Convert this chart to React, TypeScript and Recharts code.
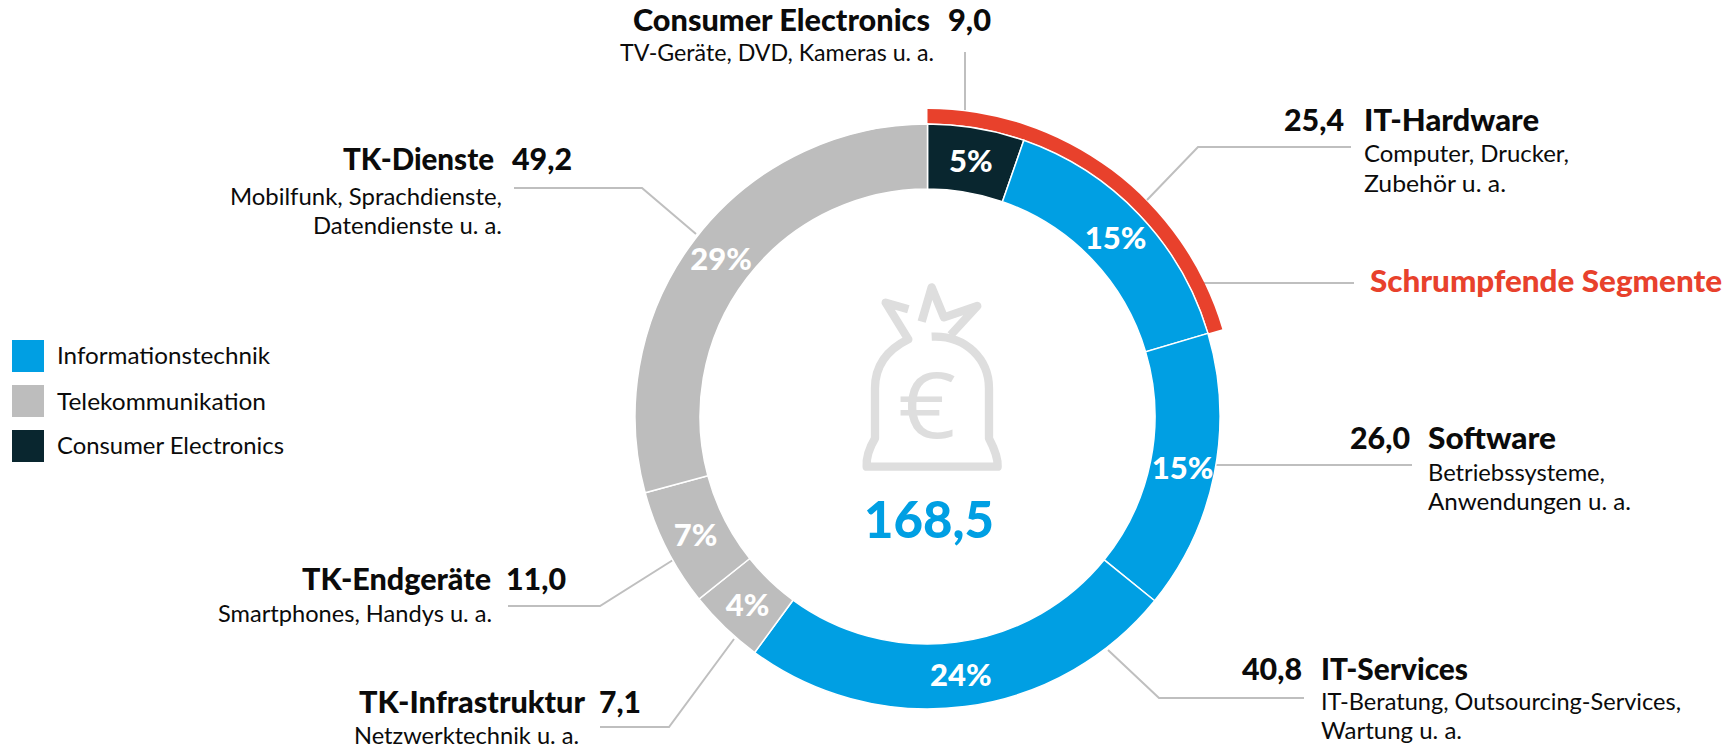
import { PieChart, Pie, Cell } from "recharts";

const WIDTH = 1733;
const HEIGHT = 749;
const FONT = "Lato, 'Open Sans', sans-serif";
const INK = "#0b0b0b";
const BLUE = "#009fe3";
const GRAY = "#bdbdbd";
const DARK = "#09262f";
const RED = "#e8412c";
const LINE = "#bfbfbf";
const CX = 927.5;
const CY = 416.5;

// Umsatz in Mrd. Euro, im Uhrzeigersinn ab 12 Uhr
const segments = ["Consumer Electronics", "IT-Hardware", "Software", "IT-Services", "TK-Infrastruktur", "TK-Endgeräte", "TK-Dienste"];
const revenue = [9.0, 25.4, 26.0, 40.8, 7.1, 11.0, 49.2];
const segmentColors = [DARK, BLUE, BLUE, BLUE, GRAY, GRAY, GRAY];
const shrinking = [34.4, 134.1];
const total = "168,5";

const legendNames = ["Informationstechnik", "Telekommunikation", "Consumer Electronics"];
const legendColors = [BLUE, GRAY, DARK];
const legendY = [340, 385, 430];
const legendBaseline = [364, 410, 454];
const legendWidths = [213, 209, 227];

const data = segments.map((name, i) => ({ name, value: revenue[i] }));
const shrinkData = shrinking.map((value) => ({ value }));

type T = { s: string; x: number; y: number; w: number; b?: boolean };

const callouts: T[] = [
  { s: "Consumer Electronics", x: 633, y: 31, w: 297, b: true },
  { s: "9,0", x: 948, y: 31, w: 43, b: true },
  { s: "TV-Geräte, DVD, Kameras u. a.", x: 620, y: 61, w: 314 },
  { s: "25,4", x: 1284, y: 131, w: 60, b: true },
  { s: "IT-Hardware", x: 1364, y: 131, w: 175, b: true },
  { s: "Computer, Drucker,", x: 1364, y: 162, w: 205 },
  { s: "Zubehör u. a.", x: 1364, y: 192, w: 142 },
  { s: "26,0", x: 1350, y: 449, w: 60, b: true },
  { s: "Software", x: 1428, y: 449, w: 128, b: true },
  { s: "Betriebssysteme,", x: 1428, y: 481, w: 177 },
  { s: "Anwendungen u. a.", x: 1428, y: 510, w: 203 },
  { s: "40,8", x: 1242, y: 680, w: 60, b: true },
  { s: "IT-Services", x: 1321, y: 680, w: 147, b: true },
  { s: "IT-Beratung, Outsourcing-Services,", x: 1321, y: 710, w: 360 },
  { s: "Wartung u. a.", x: 1321, y: 739, w: 141 },
  { s: "TK-Dienste", x: 343, y: 170, w: 151, b: true },
  { s: "49,2", x: 512, y: 170, w: 60, b: true },
  { s: "Mobilfunk, Sprachdienste,", x: 230, y: 205, w: 272 },
  { s: "Datendienste u. a.", x: 313, y: 234, w: 189 },
  { s: "TK-Endgeräte", x: 302, y: 590, w: 189, b: true },
  { s: "11,0", x: 506, y: 590, w: 60, b: true },
  { s: "Smartphones, Handys u. a.", x: 218, y: 622, w: 274 },
  { s: "TK-Infrastruktur", x: 359, y: 713, w: 226, b: true },
  { s: "7,1", x: 599, y: 713, w: 42, b: true },
  { s: "Netzwerktechnik u. a.", x: 354, y: 744, w: 225 },
];

const leaders = [
  "965,52 965,110",
  "1147,200 1198,147 1351,147",
  "1203,283 1354,283",
  "1214,465 1412,465",
  "1108,650 1159,698 1304,698",
  "696,234 642,188 514,188",
  "673,560 600,606 508,606",
  "734,639 669,727 600,727",
];

const renderPct = ({ cx, cy, midAngle, innerRadius, outerRadius, percent }: any) => {
  const r = (innerRadius + outerRadius) / 2;
  const a = (midAngle * Math.PI) / 180;
  return (
    <text
      x={cx + r * Math.cos(a)}
      y={cy - r * Math.sin(a)}
      fill="#fff"
      textAnchor="middle"
      dominantBaseline="central"
      fontFamily={FONT}
      fontWeight={900}
      fontSize={31}
    >
      {Math.round(percent * 100)}%
    </text>
  );
};

const MoneyBag = () => (
  <g transform="translate(820 270) scale(0.3333)" fill="none" stroke="#dedede" strokeWidth={25} strokeLinejoin="round">
    <path d="M335 200 C 440 195 507 270 507 355 L507 505 C 520 530 535 560 533 590 L140 590 C 138 560 150 530 165 505 L165 355 C 165 290 200 240 265 208 L197 98 L265 118" />
    <path d="M305 155 L335 52 L372 142 L472 108 L392 195" />
  </g>
);

export default function App() {
  return (
    <div style={{ position: "absolute", left: 0, top: 0, width: WIDTH, height: HEIGHT, background: "#fff" }}>
      <svg width={WIDTH} height={HEIGHT} style={{ position: "absolute", left: 0, top: 0 }}>
        {leaders.map((p) => (
          <polyline key={p} points={p} fill="none" stroke={LINE} strokeWidth={2} />
        ))}
        <MoneyBag />
        <text x={929} y={538} textAnchor="middle" fontFamily={FONT} fontWeight={900} fontSize={52} fill={BLUE} textLength={130} lengthAdjust="spacingAndGlyphs">
          {total}
        </text>
        <text x={898} y={438} fontFamily="'Open Sans', sans-serif" fontSize={92} fill="#dedede" textLength={58} lengthAdjust="spacingAndGlyphs">€</text>
        {callouts.map((t) => (
          <text
            key={t.s}
            x={t.x}
            y={t.y}
            fontFamily={FONT}
            fontWeight={t.b ? 900 : 400}
            fontSize={t.b ? 31 : 23}
            fill={INK}
            textLength={t.w}
            lengthAdjust="spacingAndGlyphs"
          >
            {t.s}
          </text>
        ))}
        <text x={1370} y={292} fontFamily={FONT} fontWeight={900} fontSize={31} fill={RED} textLength={352} lengthAdjust="spacingAndGlyphs">
          Schrumpfende Segmente
        </text>
        {legendNames.map((name, i) => (
          <g key={name}>
            <rect x={12} y={legendY[i]} width={32} height={32} fill={legendColors[i]} />
            <text x={57} y={legendBaseline[i]} fontFamily={FONT} fontSize={23} fill={INK} textLength={legendWidths[i]} lengthAdjust="spacingAndGlyphs">
              {name}
            </text>
          </g>
        ))}
      </svg>
      <div style={{ position: "absolute", left: 0, top: 0 }}>
        <PieChart width={WIDTH} height={HEIGHT} margin={{ top: 0, right: 0, bottom: 0, left: 0 }}>
          <Pie
            data={shrinkData}
            dataKey="value"
            cx={CX}
            cy={CY}
            startAngle={90}
            endAngle={-270}
            innerRadius={293}
            outerRadius={307.5}
            stroke="none"
            isAnimationActive={false}
          >
            {shrinkData.map((_, i) => (
              <Cell key={i} fill={i === 0 ? RED : "none"} />
            ))}
          </Pie>
          <Pie
            data={data}
            dataKey="value"
            cx={CX}
            cy={CY}
            startAngle={90}
            endAngle={-270}
            innerRadius={227.5}
            outerRadius={292.5}
            stroke="#fff"
            strokeWidth={1.5}
            label={renderPct}
            labelLine={false}
            isAnimationActive={false}
          >
            {data.map((d, i) => (
              <Cell key={d.name} fill={segmentColors[i]} />
            ))}
          </Pie>
        </PieChart>
      </div>
    </div>
  );
}
